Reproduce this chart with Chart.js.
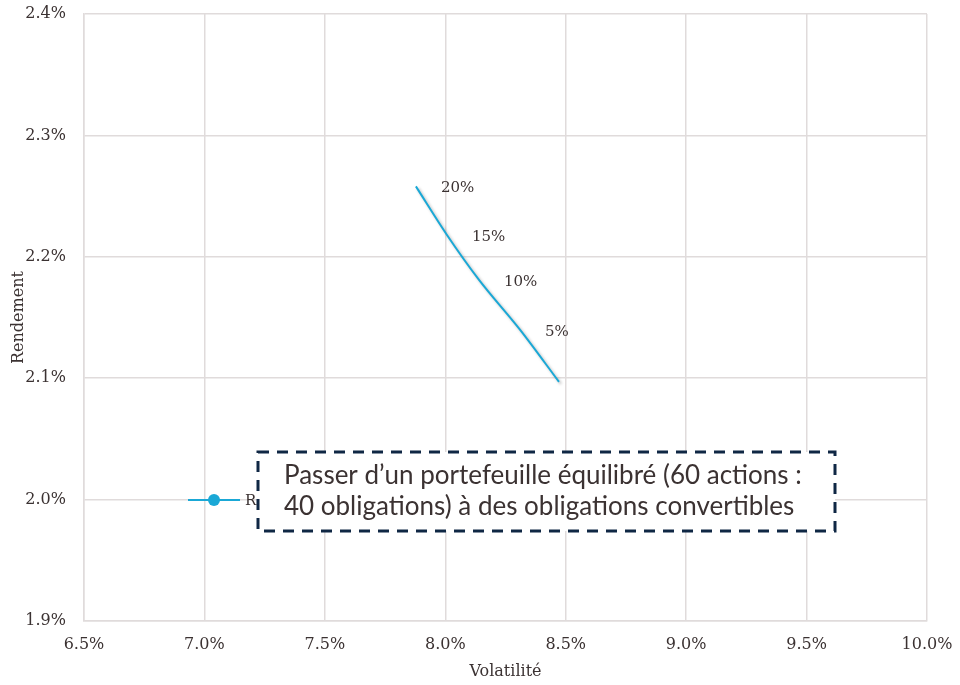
<!DOCTYPE html>
<html>
<head>
<meta charset="utf-8">
<script src="https://cdn.jsdelivr.net/npm/chart.js@4/dist/chart.umd.min.js"></script>
<style>
  html, body { margin: 0; padding: 0; background: #fff; }
  #wrap { width: 960px; height: 685px; }
</style>
</head>
<body>
<div id="wrap"><canvas id="myChart" width="960" height="685"></canvas></div>
<script>
// donnees
var volatilite = [7.878, 8.007, 8.140, 8.310, 8.472];
var rendement = [2.258, 2.218, 2.181, 2.140, 2.097];
var etiquettes = ['20%', '15%', '10%', '5%', ''];
var xTicks = [6.5, 7.0, 7.5, 8.0, 8.5, 9.0, 9.5, 10.0];
var yTicks = [1.9, 2.0, 2.1, 2.2, 2.3, 2.4];
var legendeTexte = 'R';
var encadre = ['Passer d\u2019un portefeuille équilibré (60 actions :', '40 obligations) à des obligations convertibles'];

var bleu = '#1aa8d6';
var gris = '#e0dbdb';
var texte = '#3b3232';

var points = volatilite.map(function (v, i) { return { x: v, y: rendement[i] }; });

var ombre = {
    id: 'ombre',
    beforeDatasetDraw: function (chart) {
        var c = chart.ctx;
        c.save();
        c.shadowColor = 'rgba(0,0,0,0.28)';
        c.shadowBlur = 3;
        c.shadowOffsetX = 2;
        c.shadowOffsetY = 2;
    },
    afterDatasetDraw: function (chart) {
        chart.ctx.restore();
    }
};

var annotations = {
    id: 'annotations',
    afterDraw: function (chart) {
        var c = chart.ctx;
        var xs = chart.scales.x, ys = chart.scales.y;
        // etiquettes de la courbe
        c.save();
        c.font = '15px "DejaVu Serif"';
        c.fillStyle = texte;
        c.textBaseline = 'middle';
        c.textAlign = 'left';
        points.forEach(function (p, i) {
            if (!etiquettes[i]) return;
            c.fillText(etiquettes[i], xs.getPixelForValue(p.x) + 25, ys.getPixelForValue(p.y) + 2);
        });
        // legende
        c.strokeStyle = bleu;
        c.lineWidth = 2;
        c.beginPath();
        c.moveTo(188, 500);
        c.lineTo(240, 500);
        c.stroke();
        c.fillStyle = bleu;
        c.beginPath();
        c.arc(214, 500, 6, 0, Math.PI * 2);
        c.fill();
        c.fillStyle = texte;
        c.fillText(legendeTexte, 245, 501);
        // encadre
        c.fillStyle = '#fff';
        c.fillRect(258, 452, 577, 79);
        c.setLineDash([11, 8]);
        c.lineWidth = 3;
        c.strokeStyle = '#0f2744';
        c.strokeRect(258, 452, 577, 79);
        c.setLineDash([]);
        c.font = '26px Lato';
        c.fillStyle = texte;
        c.fillText(encadre[0], 284, 476);
        c.fillText(encadre[1], 284, 507);
        c.restore();
    }
};

var ctx = document.getElementById('myChart').getContext('2d');
var myChart = new Chart(ctx, {
    type: 'scatter',
    data: {
        datasets: [{
            label: 'Obligations convertibles',
            data: points,
            showLine: true,
            borderColor: bleu,
            backgroundColor: bleu,
            borderWidth: 2,
            pointRadius: 0,
            cubicInterpolationMode: 'monotone'
        }]
    },
    options: {
        responsive: false,
        animation: false,
        layout: { padding: { top: 14, right: 33, left: 5, bottom: 0 } },
        plugins: {
            legend: { display: false },
            tooltip: { enabled: false }
        },
        scales: {
            x: {
                min: 6.5,
                max: 10.0,
                afterBuildTicks: function (s) { s.ticks = xTicks.map(function (v) { return { value: v }; }); },
                afterFit: function (s) {
                    s.height = 64;
                    s.paddingLeft = 0;
                    s.paddingRight = 0;
                },
                grid: { color: gris, lineWidth: 1.5, drawTicks: false },
                border: { color: gris, width: 1.5 },
                ticks: {
                    padding: 14,
                    color: texte,
                    font: { family: 'DejaVu Serif', size: 16 },
                    callback: function (v) { return Number(v).toFixed(1) + '%'; }
                },
                title: {
                    display: true,
                    text: 'Volatilité',
                    color: texte,
                    font: { family: 'DejaVu Serif', size: 16 },
                    padding: { top: 6 }
                }
            },
            y: {
                min: 1.9,
                max: 2.4,
                afterBuildTicks: function (s) { s.ticks = yTicks.map(function (v) { return { value: v }; }); },
                afterFit: function (s) {
                    s.width = 79;
                    s.paddingTop = 0;
                    s.paddingBottom = 0;
                },
                grid: { color: gris, lineWidth: 1.5, drawTicks: false },
                border: { color: gris, width: 1.5 },
                ticks: {
                    padding: 18,
                    color: texte,
                    font: { family: 'DejaVu Serif', size: 16 },
                    callback: function (v) { return Number(v).toFixed(1) + '%'; }
                },
                title: {
                    display: true,
                    text: 'Rendement',
                    color: texte,
                    font: { family: 'DejaVu Serif', size: 16 },
                    padding: { bottom: 2 }
                }
            }
        }
    },
    plugins: [ombre, annotations]
});
</script>
</body>
</html>
